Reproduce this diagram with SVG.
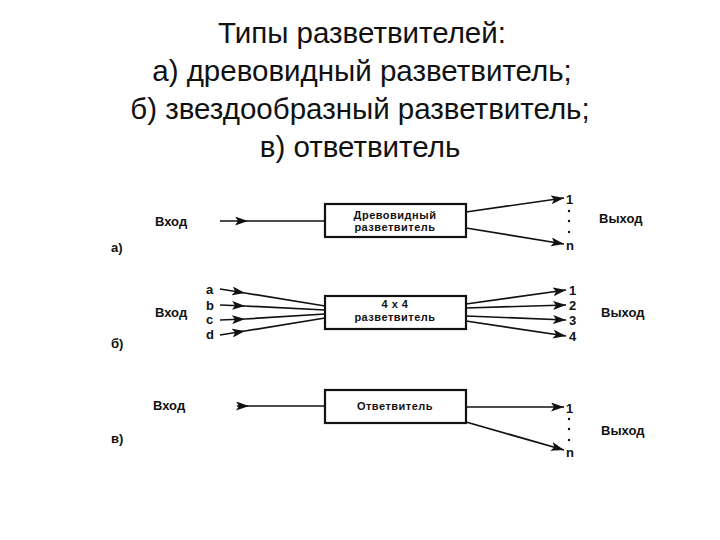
<svg xmlns="http://www.w3.org/2000/svg" width="720" height="540" viewBox="0 0 720 540">
<style>
.title{font-family:"Liberation Sans",Arial,sans-serif;font-size:29.5px;fill:#111;text-anchor:middle}
.lbl{font-family:"Liberation Sans",Arial,sans-serif;font-size:13px;font-weight:bold;fill:#111}
.num{font-family:"Liberation Sans",Arial,sans-serif;font-size:13px;font-weight:bold;fill:#111}
.box{fill:#fff;stroke:#111;stroke-width:2.2}
.boxt{font-family:"Liberation Sans",Arial,sans-serif;font-size:11px;font-weight:bold;fill:#111;text-anchor:middle;letter-spacing:0.5px}
.ln{fill:none;stroke:#111;stroke-width:1.7}
.end{marker-end:url(#ah)}
.mid{marker-mid:url(#ah)}
</style>
<defs>
<marker id="ah" markerWidth="13" markerHeight="9" refX="13" refY="4.5" orient="auto" markerUnits="userSpaceOnUse">
<path d="M0,0 L13,4.5 L0,9 L3,4.5 z" fill="#111"/>
</marker>
</defs>
<rect width="720" height="540" fill="#fff"/>
<g id="title">
<text class="title" x="362" y="43">Типы разветвителей:</text>
<text class="title" x="362" y="81">а) древовидный разветвитель;</text>
<text class="title" x="360" y="119">б) звездообразный разветвитель;</text>
<text class="title" x="360" y="157">в) ответвитель</text>
</g>
<g id="connectors">
<path class="ln mid" d="M220,221 L248,221 L325,221"/>
<path class="ln end" d="M466,212 L564,198"/>
<path class="ln end" d="M466,228 L564,244"/>
<path class="ln mid" d="M220,289 L245,293 L325,306"/>
<path class="ln mid" d="M220,305 L245,306 L325,310"/>
<path class="ln mid" d="M220,320 L245,319 L325,314"/>
<path class="ln mid" d="M220,335 L245,331 L325,318"/>
<path class="ln end" d="M466,304 L566,290"/>
<path class="ln end" d="M466,308 L566,305"/>
<path class="ln end" d="M466,316 L566,320"/>
<path class="ln end" d="M466,321 L566,336"/>
<path class="ln mid" d="M237,406 L249,406 L325,406"/>
<path class="ln end" d="M466,407 L564,407"/>
<path class="ln end" d="M466,422 L564,450"/>
</g>
<g id="node-a">
<rect class="box" x="325" y="204" width="141" height="33"/>
<text class="boxt" x="395" y="219">Древовидный</text>
<text class="boxt" x="395" y="231">разветвитель</text>
<text class="lbl" x="155" y="226">Вход</text>
<text class="lbl" x="599" y="223">Выход</text>
<text class="lbl" x="111" y="252">а)</text>
<text class="num" x="566" y="204">1</text>
<text class="num" x="566" y="250">n</text>
<circle cx="569" cy="211" r="1.2" fill="#111"/>
<circle cx="569" cy="221" r="1.2" fill="#111"/>
<circle cx="569" cy="232" r="1.2" fill="#111"/>
</g>
<g id="node-b">
<rect class="box" x="325" y="296" width="141" height="33"/>
<text class="boxt" x="395" y="308">4 x 4</text>
<text class="boxt" x="395" y="321">разветвитель</text>
<text class="lbl" x="155" y="317">Вход</text>
<text class="lbl" x="601" y="317">Выход</text>
<text class="lbl" x="111" y="348">б)</text>
<text class="num" x="206" y="294">a</text>
<text class="num" x="206" y="310">b</text>
<text class="num" x="206" y="324">c</text>
<text class="num" x="206" y="339">d</text>
<text class="num" x="569" y="295">1</text>
<text class="num" x="569" y="310">2</text>
<text class="num" x="569" y="325">3</text>
<text class="num" x="569" y="341">4</text>
</g>
<g id="node-c">
<rect class="box" x="325" y="390" width="141" height="33"/>
<text class="boxt" x="395" y="410">Ответвитель</text>
<text class="lbl" x="153" y="410">Вход</text>
<text class="lbl" x="601" y="435">Выход</text>
<text class="lbl" x="111" y="443">в)</text>
<text class="num" x="566" y="413">1</text>
<text class="num" x="566" y="457">n</text>
<circle cx="569" cy="419" r="1.2" fill="#111"/>
<circle cx="569" cy="429" r="1.2" fill="#111"/>
<circle cx="569" cy="440" r="1.2" fill="#111"/>
</g>
</svg>
